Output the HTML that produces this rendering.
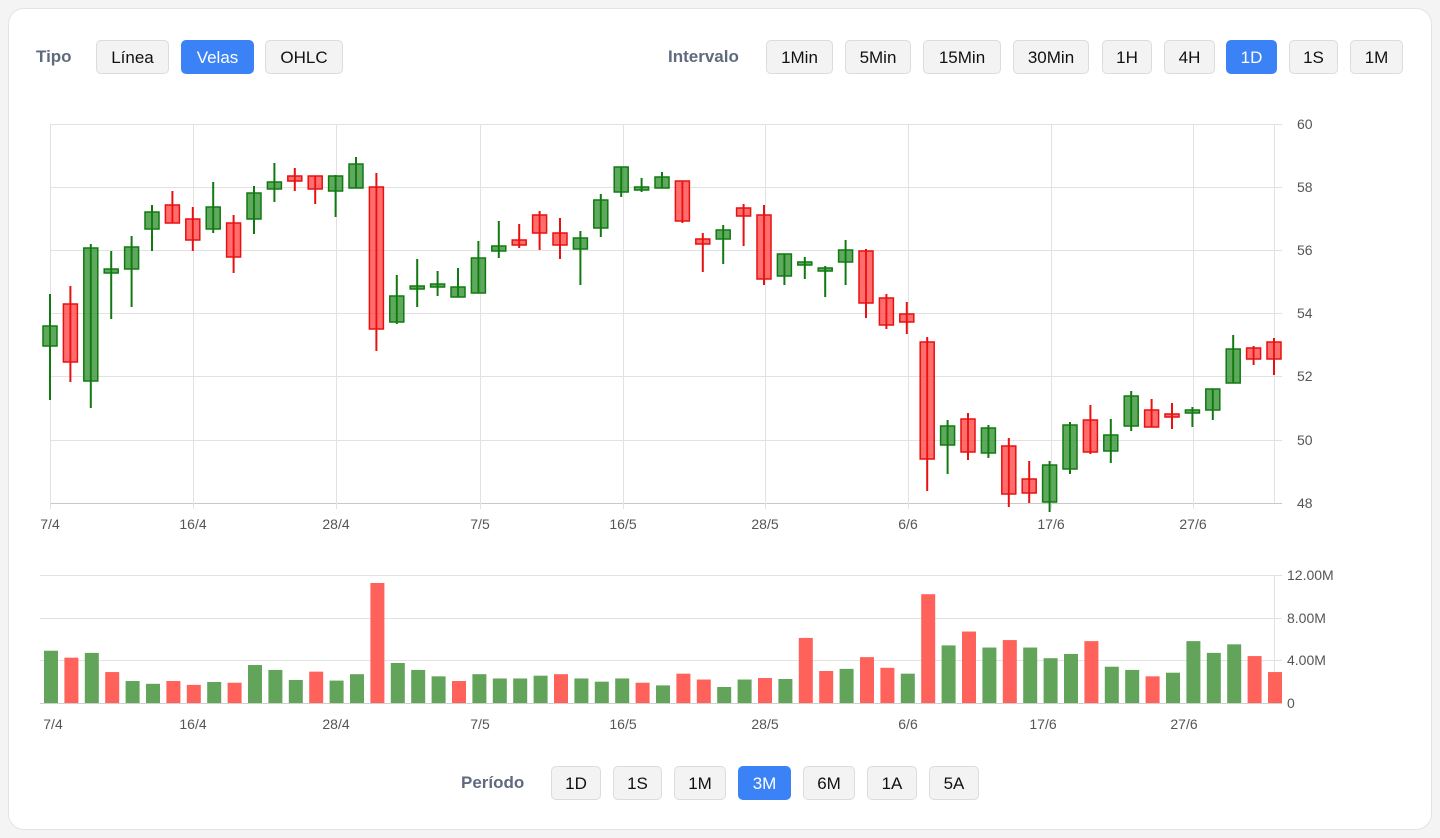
<!DOCTYPE html>
<html><head><meta charset="utf-8">
<style>
html,body{margin:0;padding:0;background:#f4f4f5;width:1440px;height:838px;overflow:hidden;font-family:"Liberation Sans",Arial,sans-serif;}
.card{position:absolute;left:8px;top:8px;width:1422px;height:820px;background:#fff;border:1px solid #e3e3e3;border-radius:16px;}
.lbl{position:absolute;font-size:17px;font-weight:bold;color:#5f6b7d;}
.btn{position:absolute;height:34px;line-height:34px;text-align:center;font-size:17px;color:#111;background:#f3f3f3;border:1px solid #dcdcdc;border-radius:5px;box-sizing:border-box;}
.on{background:#3b82f6;border-color:#3b82f6;color:#fff;}
svg{position:absolute;left:0;top:0;}
svg text{font-family:"Liberation Sans",Arial,sans-serif;font-size:14px;fill:#555;}
</style></head><body>
<div class="card"></div>
<div class="lbl" style="left:36px;top:47px">Tipo</div>
<div class="btn" style="left:96px;top:40px;width:73px">Línea</div>
<div class="btn on" style="left:181px;top:40px;width:73px">Velas</div>
<div class="btn" style="left:265px;top:40px;width:78px">OHLC</div>
<div class="lbl" style="left:668px;top:47px">Intervalo</div>
<div class="btn" style="left:766px;top:40px;width:67px">1Min</div>
<div class="btn" style="left:845px;top:40px;width:66px">5Min</div>
<div class="btn" style="left:923px;top:40px;width:78px">15Min</div>
<div class="btn" style="left:1013px;top:40px;width:76px">30Min</div>
<div class="btn" style="left:1102px;top:40px;width:50px">1H</div>
<div class="btn" style="left:1164px;top:40px;width:51px">4H</div>
<div class="btn on" style="left:1226px;top:40px;width:51px">1D</div>
<div class="btn" style="left:1289px;top:40px;width:49px">1S</div>
<div class="btn" style="left:1350px;top:40px;width:53px">1M</div>

<div class="lbl" style="left:461px;top:773px">Período</div>
<div class="btn" style="left:551px;top:766px;width:50px">1D</div>
<div class="btn" style="left:613px;top:766px;width:49px">1S</div>
<div class="btn" style="left:674px;top:766px;width:52px">1M</div>
<div class="btn on" style="left:738px;top:766px;width:53px">3M</div>
<div class="btn" style="left:803px;top:766px;width:52px">6M</div>
<div class="btn" style="left:867px;top:766px;width:50px">1A</div>
<div class="btn" style="left:929px;top:766px;width:50px">5A</div>

<svg width="1440" height="838" id="s">
<g id="grid" stroke="#e2e2e2" stroke-width="1"></g>
<g id="c"></g>
<g id="v"></g>
<g>
<text x="1297" y="129">60</text><text x="1297" y="192">58</text><text x="1297" y="255">56</text>
<text x="1297" y="318">54</text><text x="1297" y="381">52</text><text x="1297" y="445">50</text><text x="1297" y="508">48</text>
<text x="50" y="529" text-anchor="middle">7/4</text><text x="193" y="529" text-anchor="middle">16/4</text>
<text x="336" y="529" text-anchor="middle">28/4</text><text x="480" y="529" text-anchor="middle">7/5</text>
<text x="623" y="529" text-anchor="middle">16/5</text><text x="765" y="529" text-anchor="middle">28/5</text>
<text x="908" y="529" text-anchor="middle">6/6</text><text x="1051" y="529" text-anchor="middle">17/6</text>
<text x="1193" y="529" text-anchor="middle">27/6</text>
<text x="1287" y="580">12.00M</text><text x="1287" y="623">8.00M</text><text x="1287" y="665">4.00M</text><text x="1287" y="708">0</text>
<text x="53" y="729" text-anchor="middle">7/4</text><text x="193" y="729" text-anchor="middle">16/4</text>
<text x="336" y="729" text-anchor="middle">28/4</text><text x="480" y="729" text-anchor="middle">7/5</text>
<text x="623" y="729" text-anchor="middle">16/5</text><text x="765" y="729" text-anchor="middle">28/5</text>
<text x="908" y="729" text-anchor="middle">6/6</text><text x="1043" y="729" text-anchor="middle">17/6</text>
<text x="1184" y="729" text-anchor="middle">27/6</text>
</g>
</svg>
<script>
var ns="http://www.w3.org/2000/svg";
function el(p,t,a){var e=document.createElementNS(ns,t);for(var k in a)e.setAttribute(k,a[k]);p.appendChild(e);return e;}
var g=document.getElementById('grid');
[124,187,250,313,376,440].forEach(function(y){el(g,'line',{x1:50,x2:1282,y1:y+.5,y2:y+.5});});
el(g,'line',{x1:50,x2:1282,y1:503.5,y2:503.5,stroke:'#c8c8c8'});
[50,193,336,480,623,765,908,1051,1193].forEach(function(x){el(g,'line',{x1:x+.5,x2:x+.5,y1:124,y2:509});});
el(g,'line',{x1:1274.5,x2:1274.5,y1:124,y2:503});
[575,618,660].forEach(function(y){el(g,'line',{x1:40,x2:1282,y1:y+.5,y2:y+.5});});
el(g,'line',{x1:40,x2:1282,y1:703.5,y2:703.5,stroke:'#cfcfcf'});
el(g,'line',{x1:1274.5,x2:1274.5,y1:575,y2:703});
var C=[[294,400,326,346,1],[286,382,304,362,0],[244,408,248,381,1],[251,319,269,273,1],[236,307,247,269,1],[205,251,212,229,1],[191,223,205,223,0],[207,251,219,240,0],[182,233,207,229,1],[215,273,223,257,0],[186,234,193,219,1],[163,202,182,189,1],[168,191,176,181,0],[176,204,176,189,0],[175,217,176,191,1],[157,188,164,188,1],[173,351,187,329,0],[275,324,296,322,1],[259,307,286,289,1],[271,296,284,287,1],
[268,297,287,297,1],[241,293,258,293,1],[221,258,246,251,1],[224,248,240,245,0],[211,250,215,233,0],[218,259,233,245,0],[231,285,238,249,1],[194,237,200,228,1],[167,197,167,192,1],[178,192,187,190,1],[172,188,177,188,1],[181,223,181,221,0],[233,272,239,244,0],[225,264,230,239,1],[204,246,208,216,0],[205,285,215,279,0],[254,285,254,276,1],[257,279,262,264,1],[266,297,268,271,1],[240,285,250,262,1],
[249,318,251,303,0],[294,329,298,325,0],[302,334,314,322,0],[337,491,342,459,0],[420,474,426,445,1],[413,460,419,452,0],[425,458,428,453,1],[438,507,446,494,0],[461,503,479,493,0],[461,512,465,502,1],[422,474,425,469,1],[405,454,420,452,0],[419,463,435,451,1],[391,431,396,426,1],[399,427,410,427,0],[403,429,414,417,0],[407,427,410,412,1],[389,420,389,410,1],[335,383,349,383,1],[346,365,348,359,0],[338,375,342,359,0]];
var V=[[4.9,1],[4.25,0],[4.7,1],[2.9,0],[2.06,1],[1.8,1],[2.06,0],[1.7,0],[1.97,1],[1.9,0],[3.56,1],[3.1,1],[2.16,1],[2.94,0],[2.1,1],[2.7,1],[11.25,0],[3.75,1],[3.1,1],[2.5,1],[2.06,0],[2.7,1],[2.3,1],[2.3,1],[2.56,1],[2.7,0],[2.3,1],[2.0,1],[2.3,1],[1.9,0],[1.65,1],
[2.75,0],[2.2,0],[1.5,1],[2.2,1],[2.34,0],[2.25,1],[6.1,0],[3.0,0],[3.2,1],[4.3,0],[3.3,0],[2.75,1],[10.2,0],[5.4,1],[6.7,0],[5.2,1],[5.9,0],[5.2,1],[4.2,1],[4.6,1],[5.8,0],[3.4,1],[3.1,1],[2.5,0],[2.84,1],[5.8,1],[4.7,1],[5.5,1],[4.4,0],[2.9,0]];
var cg=document.getElementById('c'),vg=document.getElementById('v');
C.forEach(function(d,i){var x=50+i*20.4;var gr=d[4];
 var st=gr?'#107a10':'#e81010',fi=gr?'rgba(40,140,40,0.75)':'rgba(255,60,60,0.75)';
 el(cg,'line',{x1:x,x2:x,y1:d[0],y2:d[1],stroke:st,'stroke-width':2});
 var h=Math.max(d[3]-d[2],3);
 el(cg,'rect',{x:x-7,y:d[2],width:14,height:h,fill:fi,stroke:st,'stroke-width':1.5});
 el(cg,'line',{x1:x,x2:x,y1:d[2],y2:d[2]+h,stroke:st,'stroke-width':1.5});
});
V.forEach(function(d,i){var x=51+i*20.4;var h=d[0]*128/12;
 el(vg,'rect',{x:x-7,y:703-h,width:14,height:h,fill:d[1]?'#62a55a':'#ff625a'});});
</script>
</body></html>
